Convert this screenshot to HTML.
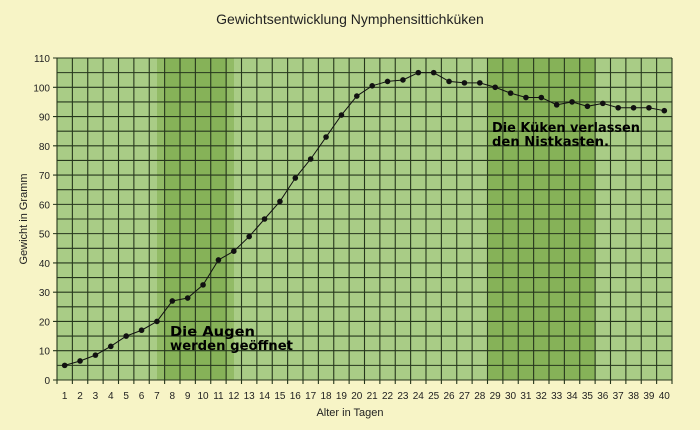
<!DOCTYPE html>
<html><head><meta charset="utf-8"><style>
body{margin:0;background:#f7f4c6;}
svg{display:block;font-family:"Liberation Sans",sans-serif;}
</style></head><body>
<svg id="s" width="700" height="430" xmlns="http://www.w3.org/2000/svg">
<rect width="700" height="430" fill="#f7f4c6"/>
<text x="350" y="24" font-size="14" text-anchor="middle" fill="#222">Gewichtsentwicklung Nymphensittichküken</text>
<rect x="57" y="58" width="615" height="322" fill="#a9cc86"/>
<rect x="157" y="58" width="77" height="322" fill="#92bb66"/>
<rect x="165" y="58" width="62" height="322" fill="#86b258"/>
<rect x="487" y="58" width="108" height="322" fill="#86b258"/>
<g id="grid"></g>
<g id="pts"></g>
<text x="350" y="416" font-size="11" text-anchor="middle" fill="#222">Alter in Tagen</text>
<text transform="translate(27,219) rotate(-90)" font-size="11" text-anchor="middle" fill="#222">Gewicht in Gramm</text>
<g font-family="'Comic Sans MS','DejaVu Sans',sans-serif" font-size="13.5" font-weight="bold" fill="#000" lengthAdjust="spacingAndGlyphs">
<text x="170" y="336" textLength="85" lengthAdjust="spacingAndGlyphs">Die Augen</text>
<text x="170" y="350" textLength="123" lengthAdjust="spacingAndGlyphs">werden geöffnet</text>
<text x="492" y="132" textLength="148" lengthAdjust="spacingAndGlyphs">Die Küken verlassen</text>
<text x="492" y="146" textLength="117" lengthAdjust="spacingAndGlyphs">den Nistkasten.</text>
</g>
</svg>
<script>
var ns="http://www.w3.org/2000/svg",g=document.getElementById("grid"),p=document.getElementById("pts");
function el(t,a,par){var e=document.createElementNS(ns,t);for(var k in a)e.setAttribute(k,a[k]);(par||g).appendChild(e);return e;}
var L=57,R=672,T=58,B=380,cw=(R-L)/40,rh=(B-T)/22;
for(var i=0;i<=40;i++){var x=L+i*cw;el("line",{x1:x,x2:x,y1:T,y2:B+4,stroke:"#26361c","stroke-width":1.1});}
for(var j=0;j<=22;j++){var y=T+j*rh;el("line",{x1:L-4*(j%2==0),x2:R,y1:y,y2:y,stroke:"#26361c","stroke-width":1.1});
 if(j%2==0){var t=el("text",{x:L-7,y:y+4,"font-size":10,"text-anchor":"end",fill:"#222"});t.textContent=110-j*5;}}
for(var d=1;d<=40;d++){var t=el("text",{x:L+(d-0.5)*cw,y:399,"font-size":10,"text-anchor":"middle",fill:"#222"});t.textContent=d;}
var v=[5,6.5,8.5,11.5,15,17,20,27,28,32.5,41,44,49,55,61,69,75.5,83,90.5,97,100.5,102,102.5,105,105,102,101.5,101.5,100,98,96.5,96.5,94,95,93.5,94.5,93,93,93,92];
var pts=v.map(function(a,i){return [L+(i+0.5)*cw,B-a*(B-T)/110];});
el("polyline",{points:pts.map(function(q){return q.join(",")}).join(" "),fill:"none",stroke:"#111","stroke-width":1},p);
pts.forEach(function(q){el("circle",{cx:q[0],cy:q[1],r:2.8,fill:"#111"},p);});
</script>
</body></html>
